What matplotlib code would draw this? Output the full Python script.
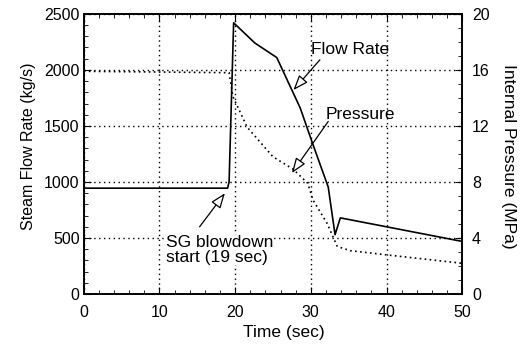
import matplotlib.pyplot as plt
from matplotlib.ticker import MultipleLocator

plt.rcParams["font.family"] = "Liberation Sans"
plt.rcParams["font.size"] = 11.5

# Flow rate (kg/s) vs time (sec)
flow_t = [0, 19.0, 19.2, 19.8, 22.6, 25.5, 28.6, 30.2, 32.3, 33.2, 33.9, 50]
flow_v = [945, 945, 1000, 2420, 2240, 2110, 1660, 1350, 955, 530, 680, 470]

# Internal pressure (MPa) vs time (sec)
pres_t = [0, 19.2, 19.7, 21.6, 25.0, 27.7, 29.6, 30.3, 32.1, 33.0, 33.5, 35.2, 40, 50]
pres_v = [15.9, 15.8, 14.1, 11.9, 9.8, 8.9, 7.9, 6.7, 5.1, 4.0, 3.4, 3.1, 2.8, 2.2]

fig = plt.figure(figsize=(5.27, 3.46), dpi=100)
ax = fig.add_axes([0.159, 0.150, 0.718, 0.810])
ax2 = ax.twinx()

ax.plot(flow_t, flow_v, color="black", lw=1.2)
ax2.plot(pres_t, pres_v, color="black", lw=1.2, ls=(0, (1, 2)))

ax.set_xlim(0, 50)
ax.set_ylim(0, 2500)
ax2.set_ylim(0, 20)
ax.xaxis.set_major_locator(MultipleLocator(10))
ax.xaxis.set_minor_locator(MultipleLocator(2))
ax.yaxis.set_major_locator(MultipleLocator(500))
ax.yaxis.set_minor_locator(MultipleLocator(100))
ax2.yaxis.set_major_locator(MultipleLocator(4))
ax2.yaxis.set_minor_locator(MultipleLocator(1))

ax.grid(True, which="major", color="black", ls=(0, (1, 2.5)), lw=1)
ax.tick_params(which="both", direction="in", top=True)
ax.tick_params(which="major", length=5)
ax.tick_params(which="minor", length=3)
ax.tick_params(axis="x", pad=8)
ax.tick_params(axis="y", pad=3)
ax2.tick_params(which="both", direction="in")
ax2.tick_params(which="major", length=5, pad=7)
ax2.tick_params(which="minor", length=3)
for a in (ax, ax2):
    for s in a.spines.values():
        s.set_linewidth(1.2)

ax.set_xlabel("Time (sec)", fontsize=12.5, va="center")
ax.xaxis.set_label_coords(0.528, -0.136)
ax.set_ylabel("Steam Flow Rate (kg/s)", fontsize=11.5, va="center")
ax.yaxis.set_label_coords(-0.146, 0.529)
ax2.set_ylabel("Internal Pressure (MPa)", fontsize=12.5, rotation=270, va="center")
ax2.yaxis.set_label_coords(1.122, 0.493)

arrow = dict(arrowstyle="-|>,head_length=0.8,head_width=0.3", ec="black",
             fc="white", lw=0.9, shrinkA=0, shrinkB=0)
ax.annotate("", xy=(27.7, 1820), xytext=(31.2, 2090), arrowprops=arrow)
ax.annotate("", xy=(27.5, 1080), xytext=(32.3, 1540), arrowprops=arrow)
ax.annotate("", xy=(18.65, 900), xytext=(15.3, 600), arrowprops=arrow)
ax.text(30.0, 2180, "Flow Rate", fontsize=12.5, ha="left", va="center")
ax.text(31.9, 1600, "Pressure", fontsize=12.5, ha="left", va="center")
ax.text(10.8, 393, "SG blowdown\nstart (19 sec)", fontsize=12.5, ha="left",
        va="center", linespacing=0.95,
        bbox=dict(fc="white", ec="none", pad=0.5))

fig.savefig("out.png", dpi=100)
